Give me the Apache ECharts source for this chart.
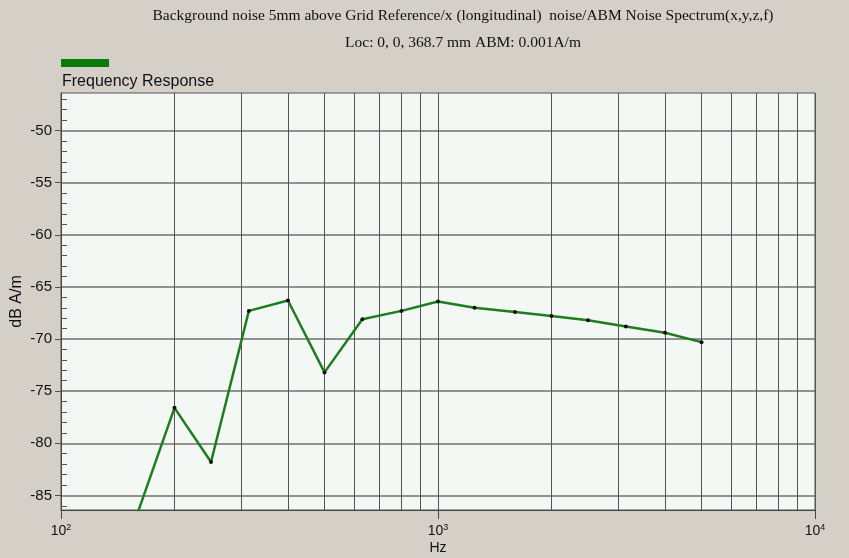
<!DOCTYPE html>
<html>
<head>
<meta charset="utf-8">
<script src="https://cdn.jsdelivr.net/npm/echarts@6/dist/echarts.min.js"></script>
<style>
  html, body { margin: 0; padding: 0; background: #d4d0c8; }
  #main { width: 849px; height: 558px; }
</style>
</head>
<body>
<div id="main"></div>
<script>
// frequencies (Hz) and levels (dB A/m)
var freqs = [160, 200, 250, 315, 400, 500, 630, 800, 1000, 1250, 1600, 2000, 2500, 3150, 4000, 5000];
var levels = [-86.6, -76.6, -81.8, -67.3, -66.3, -73.2, -68.1, -67.3, -66.4, -67.0, -67.4, -67.8, -68.2, -68.8, -69.4, -70.3];

// axis ticks
var majorDb = [-85, -80, -75, -70, -65, -60, -55, -50];
var minorDb = [-86, -84, -83, -82, -81, -79, -78, -77, -76, -74, -73, -72, -71, -69, -68, -67, -66,
               -64, -63, -62, -61, -59, -58, -57, -56, -54, -53, -52, -51, -49, -48, -47];
var minorFreqs = [200, 300, 400, 500, 600, 700, 800, 900, 2000, 3000, 4000, 5000, 6000, 7000, 8000, 9000];

var titleText = 'Background noise 5mm above Grid Reference/x (longitudinal)  noise/ABM Noise Spectrum(x,y,z,f)';
var subText = 'Loc: 0, 0, 368.7 mm ABM: 0.001A/m';
var seriesName = 'Frequency Response';

var chart = echarts.init(document.getElementById('main'));

var option = {
    backgroundColor: '#d4d0c8',
    animation: false,
    title: [
        {
            text: titleText + '\n' + subText,
            left: 463,
            top: 2,
            padding: 0,
            textAlign: 'center',
            textStyle: {
                fontFamily: 'Liberation Serif',
                fontWeight: 'normal',
                fontSize: 15.5,
                color: '#111',
                lineHeight: 27
            }
        },
        {
            text: seriesName,
            left: 62,
            top: 74,
            padding: 0,
            textStyle: {
                fontFamily: 'Liberation Sans',
                fontWeight: 'normal',
                fontSize: 16,
                color: '#111'
            }
        }
    ],
    legend: {
        left: 61,
        top: 59,
        padding: 0,
        icon: 'rect',
        itemWidth: 48,
        itemHeight: 8,
        formatter: function() { return ''; },
        selectedMode: false,
        data: [{ name: seriesName, itemStyle: { color: '#0b7a0b' } }]
    },
    grid: {
        left: 61,
        right: 34,
        top: 93,
        bottom: 48,
        outerBoundsMode: 'none',
        containLabel: false,
        show: true,
        backgroundColor: '#f3f8f4',
        borderColor: '#555',
        borderWidth: 1
    },
    xAxis: {
        type: 'log',
        logBase: 10,
        min: 100,
        max: 10000,
        name: 'Hz',
        nameLocation: 'middle',
        nameGap: 31,
        nameMoveOverlap: false,
        nameTextStyle: { fontFamily: 'Liberation Sans', fontSize: 14, color: '#111' },
        axisLine: { lineStyle: { color: '#444' } },
        axisTick: { length: 9, lineStyle: { color: '#444' } },
        axisLabel: {
            margin: 13,
            color: '#111',
            fontFamily: 'Liberation Sans',
            fontSize: 14,
            formatter: function(v) {
                return '10{sup|' + Math.round(Math.log10(v)) + '}';
            },
            rich: {
                sup: { fontSize: 9, fontFamily: 'Liberation Sans', color: '#111', padding: [0, 0, 8, 0] }
            }
        },
        splitLine: { show: true, lineStyle: { color: '#555', width: 1 } }
    },
    yAxis: [
        {
            type: 'value',
            min: -86.4,
            max: -46.4,
            name: 'dB A/m',
            nameLocation: 'middle',
            nameGap: 36,
            nameMoveOverlap: false,
            nameTextStyle: { fontFamily: 'Liberation Sans', fontSize: 16, color: '#111' },
            axisLine: { show: true, lineStyle: { color: '#444' } },
            axisTick: { customValues: majorDb, length: 6, lineStyle: { color: '#555' } },
            axisLabel: {
                customValues: majorDb,
                margin: 9,
                color: '#111',
                fontFamily: 'Liberation Sans',
                fontSize: 15
            },
            splitLine: { show: true, lineStyle: { color: '#6f6f6f', width: 1.5 } }
        },
        {
            type: 'value',
            min: -86.4,
            max: -46.4,
            position: 'left',
            axisLine: { show: false },
            axisTick: { customValues: minorDb, inside: true, length: 6, lineStyle: { color: '#555' } },
            axisLabel: { show: false },
            splitLine: { show: false }
        }
    ],
    series: [
        {
            name: seriesName,
            type: 'line',
            data: freqs.map(function(f, i) { return [f, levels[i]]; }),
            symbol: 'circle',
            symbolSize: 4,
            itemStyle: { color: '#111' },
            lineStyle: { color: '#1f7d1f', width: 2.5 },
            clip: true,
            z: 5,
            markLine: {
                silent: true,
                symbol: 'none',
                label: { show: false },
                lineStyle: { color: '#555', type: 'solid', width: 1 },
                data: minorFreqs.map(function(f) { return { xAxis: f }; }),
                z: 1
            }
        }
    ]
};

chart.setOption(option, true);
</script>
</body>
</html>
